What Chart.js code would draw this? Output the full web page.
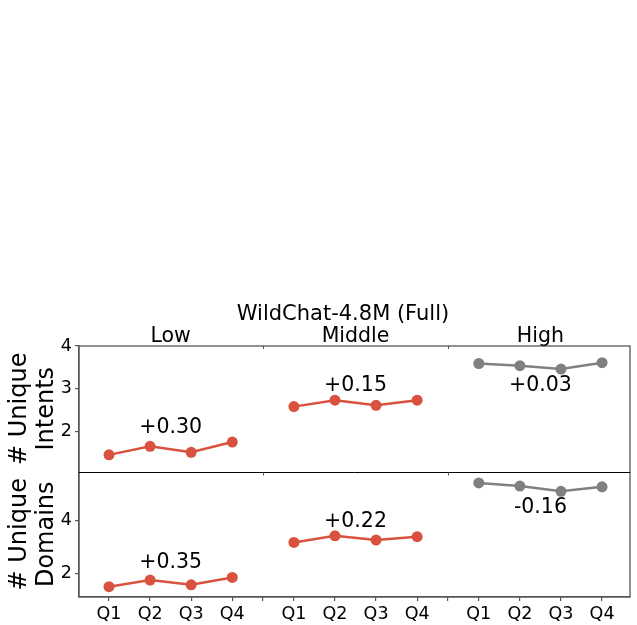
<!DOCTYPE html>
<html lang="en">
<head>
<meta charset="UTF-8">
<title>WildChat-4.8M (Full)</title>
<script src="https://cdn.jsdelivr.net/npm/chart.js"></script>
<style>
    body { margin: 0; background: #fff; }
    canvas { display: block; }
</style>
</head>
<body>
<canvas id="chart" width="637" height="625"></canvas>
<script>
// data
const quarters = ['Q1', 'Q2', 'Q3', 'Q4'];
const groups = ['Low', 'Middle', 'High'];
const intentsLow = [1.45, 1.65, 1.51, 1.75];
const intentsMiddle = [2.58, 2.73, 2.61, 2.73];
const intentsHigh = [3.59, 3.54, 3.46, 3.61];
const domainsLow = [1.51, 1.76, 1.58, 1.86];
const domainsMiddle = [3.18, 3.43, 3.27, 3.40];
const domainsHigh = [5.43, 5.31, 5.11, 5.28];
const intentsDelta = ['+0.30', '+0.15', '+0.03'];
const domainsDelta = ['+0.35', '+0.22', '-0.16'];
const intentsTicks = [2, 3, 4];
const domainsTicks = [2, 4];

const RED = '#d9513f';
const GREY = '#808080';
const SPINE = '#555';
const FONT = "'DejaVu Sans', sans-serif";
const groupColors = [RED, RED, GREY];

// x position of quarter i in group g (1.5 slot gap between groups)
function xOf(g, i) { return g * 4.5 + i; }

const xTicks = [];
const xLabels = {};
groups.forEach((g, gi) => {
    quarters.forEach((q, qi) => { xTicks.push(xOf(gi, qi)); xLabels[xOf(gi, qi)] = q; });
    if (gi < groups.length - 1) xTicks.push(xOf(gi, 3) + 0.75);
});

const panels = [
    { axis: 'yInt', series: [intentsLow, intentsMiddle, intentsHigh], delta: intentsDelta, title: ['# Unique', 'Intents'] },
    { axis: 'yDom', series: [domainsLow, domainsMiddle, domainsHigh], delta: domainsDelta, title: ['# Unique', 'Domains'] }
];

const datasets = [];
panels.forEach(p => {
    p.series.forEach((vals, gi) => {
        datasets.push({
            data: vals.map((v, i) => ({ x: xOf(gi, i), y: v })),
            yAxisID: p.axis,
            borderColor: groupColors[gi],
            backgroundColor: groupColors[gi],
            borderWidth: 2.5,
            pointRadius: 5.5,
            pointBorderWidth: 0,
            tension: 0
        });
    });
});

const textPlugin = {
    id: 'textPlugin',
    afterDraw(chart) {
        const ctx = chart.ctx;
        const a = chart.chartArea;
        const x = chart.scales.x;
        ctx.save();

        // frame + separator
        ctx.strokeStyle = SPINE;
        ctx.lineWidth = 1.3;
        ctx.strokeRect(a.left, a.top, a.right - a.left, a.bottom - a.top);
        const sepY = Math.round(chart.scales.yDom.top) + 0.5;
        ctx.strokeStyle = '#000';
        ctx.lineWidth = 1;
        ctx.beginPath();
        ctx.moveTo(a.left, sepY);
        ctx.lineTo(a.right, sepY);
        ctx.stroke();

        // small boundary ticks on top spine and separator
        ctx.strokeStyle = SPINE;
        [xOf(0, 3) + 0.75, xOf(1, 3) + 0.75].forEach(v => {
            const px = Math.round(x.getPixelForValue(v)) + 0.5;
            ctx.beginPath();
            ctx.moveTo(px, a.top); ctx.lineTo(px, a.top + 3);
            ctx.moveTo(px, sepY); ctx.lineTo(px, sepY + 3);
            ctx.stroke();
        });

        ctx.fillStyle = '#000';
        ctx.textBaseline = 'alphabetic';
        ctx.textAlign = 'center';

        ctx.font = '21px ' + FONT;
        ctx.fillText('WildChat-4.8M (Full)', 343, 320);
        ctx.font = '20.5px ' + FONT;
        groups.forEach((g, gi) => {
            ctx.fillText(g, x.getPixelForValue(xOf(gi, 1.5)), 342);
        });

        panels.forEach(p => {
            const s = chart.scales[p.axis];
            // delta labels
            ctx.font = '20.5px ' + FONT;
            p.series.forEach((vals, gi) => {
                const cx = x.getPixelForValue(xOf(gi, 1.5));
                let py;
                if (gi === groups.length - 1) py = s.getPixelForValue(Math.min(...vals)) + 22;
                else py = s.getPixelForValue(Math.max(...vals)) - 9;
                ctx.fillText(p.delta[gi], cx, py);
            });
            // y title, two rotated lines
            const cy = (s.top + s.bottom) / 2;
            ctx.font = '24px ' + FONT;
            ctx.save();
            ctx.translate(26, cy);
            ctx.rotate(-Math.PI / 2);
            ctx.fillText(p.title[0], 0, 0);
            ctx.fillText(p.title[1], 0, 27);
            ctx.restore();
        });
        ctx.restore();
    }
};

function yAxis(min, max, ticks, weight) {
    return {
        type: 'linear',
        position: 'left',
        stack: 'rows',
        stackWeight: 1,
        weight: weight,
        min: min,
        max: max,
        afterBuildTicks: sc => { sc.ticks = ticks.map(v => ({ value: v })); },
        afterFit: sc => { sc.width = 79; },
        grid: { drawOnChartArea: false, drawTicks: true, tickLength: 4, color: SPINE, lineWidth: 1.2 },
        border: { color: SPINE, width: 1.3 },
        ticks: { color: '#000', padding: 3, font: { family: FONT, size: 17.5 } }
    };
}

new Chart(document.getElementById('chart'), {
    type: 'line',
    data: { datasets: datasets },
    options: {
        responsive: false,
        animation: false,
        layout: { padding: { top: 346, right: 7, left: 0, bottom: 0 } },
        plugins: { legend: { display: false }, tooltip: { enabled: false } },
        scales: {
            x: {
                type: 'linear',
                min: -0.73,
                max: 12.68,
                afterBuildTicks: sc => { sc.ticks = xTicks.map(v => ({ value: v })); },
                afterFit: sc => { sc.height = 28; },
                grid: { drawOnChartArea: false, drawTicks: true, tickLength: 4, color: SPINE, lineWidth: 1.2 },
                border: { color: SPINE, width: 1.3 },
                ticks: {
                    autoSkip: false,
                    maxRotation: 0,
                    padding: 3,
                    color: '#000',
                    font: { family: FONT, size: 17.5 },
                    callback: v => xLabels[v] || ''
                }
            },
            yDom: yAxis(1.12, 5.86, domainsTicks, 0),
            yInt: yAxis(1.06, 4.0, intentsTicks, 1)
        }
    },
    plugins: [textPlugin]
});
</script>
</body>
</html>
